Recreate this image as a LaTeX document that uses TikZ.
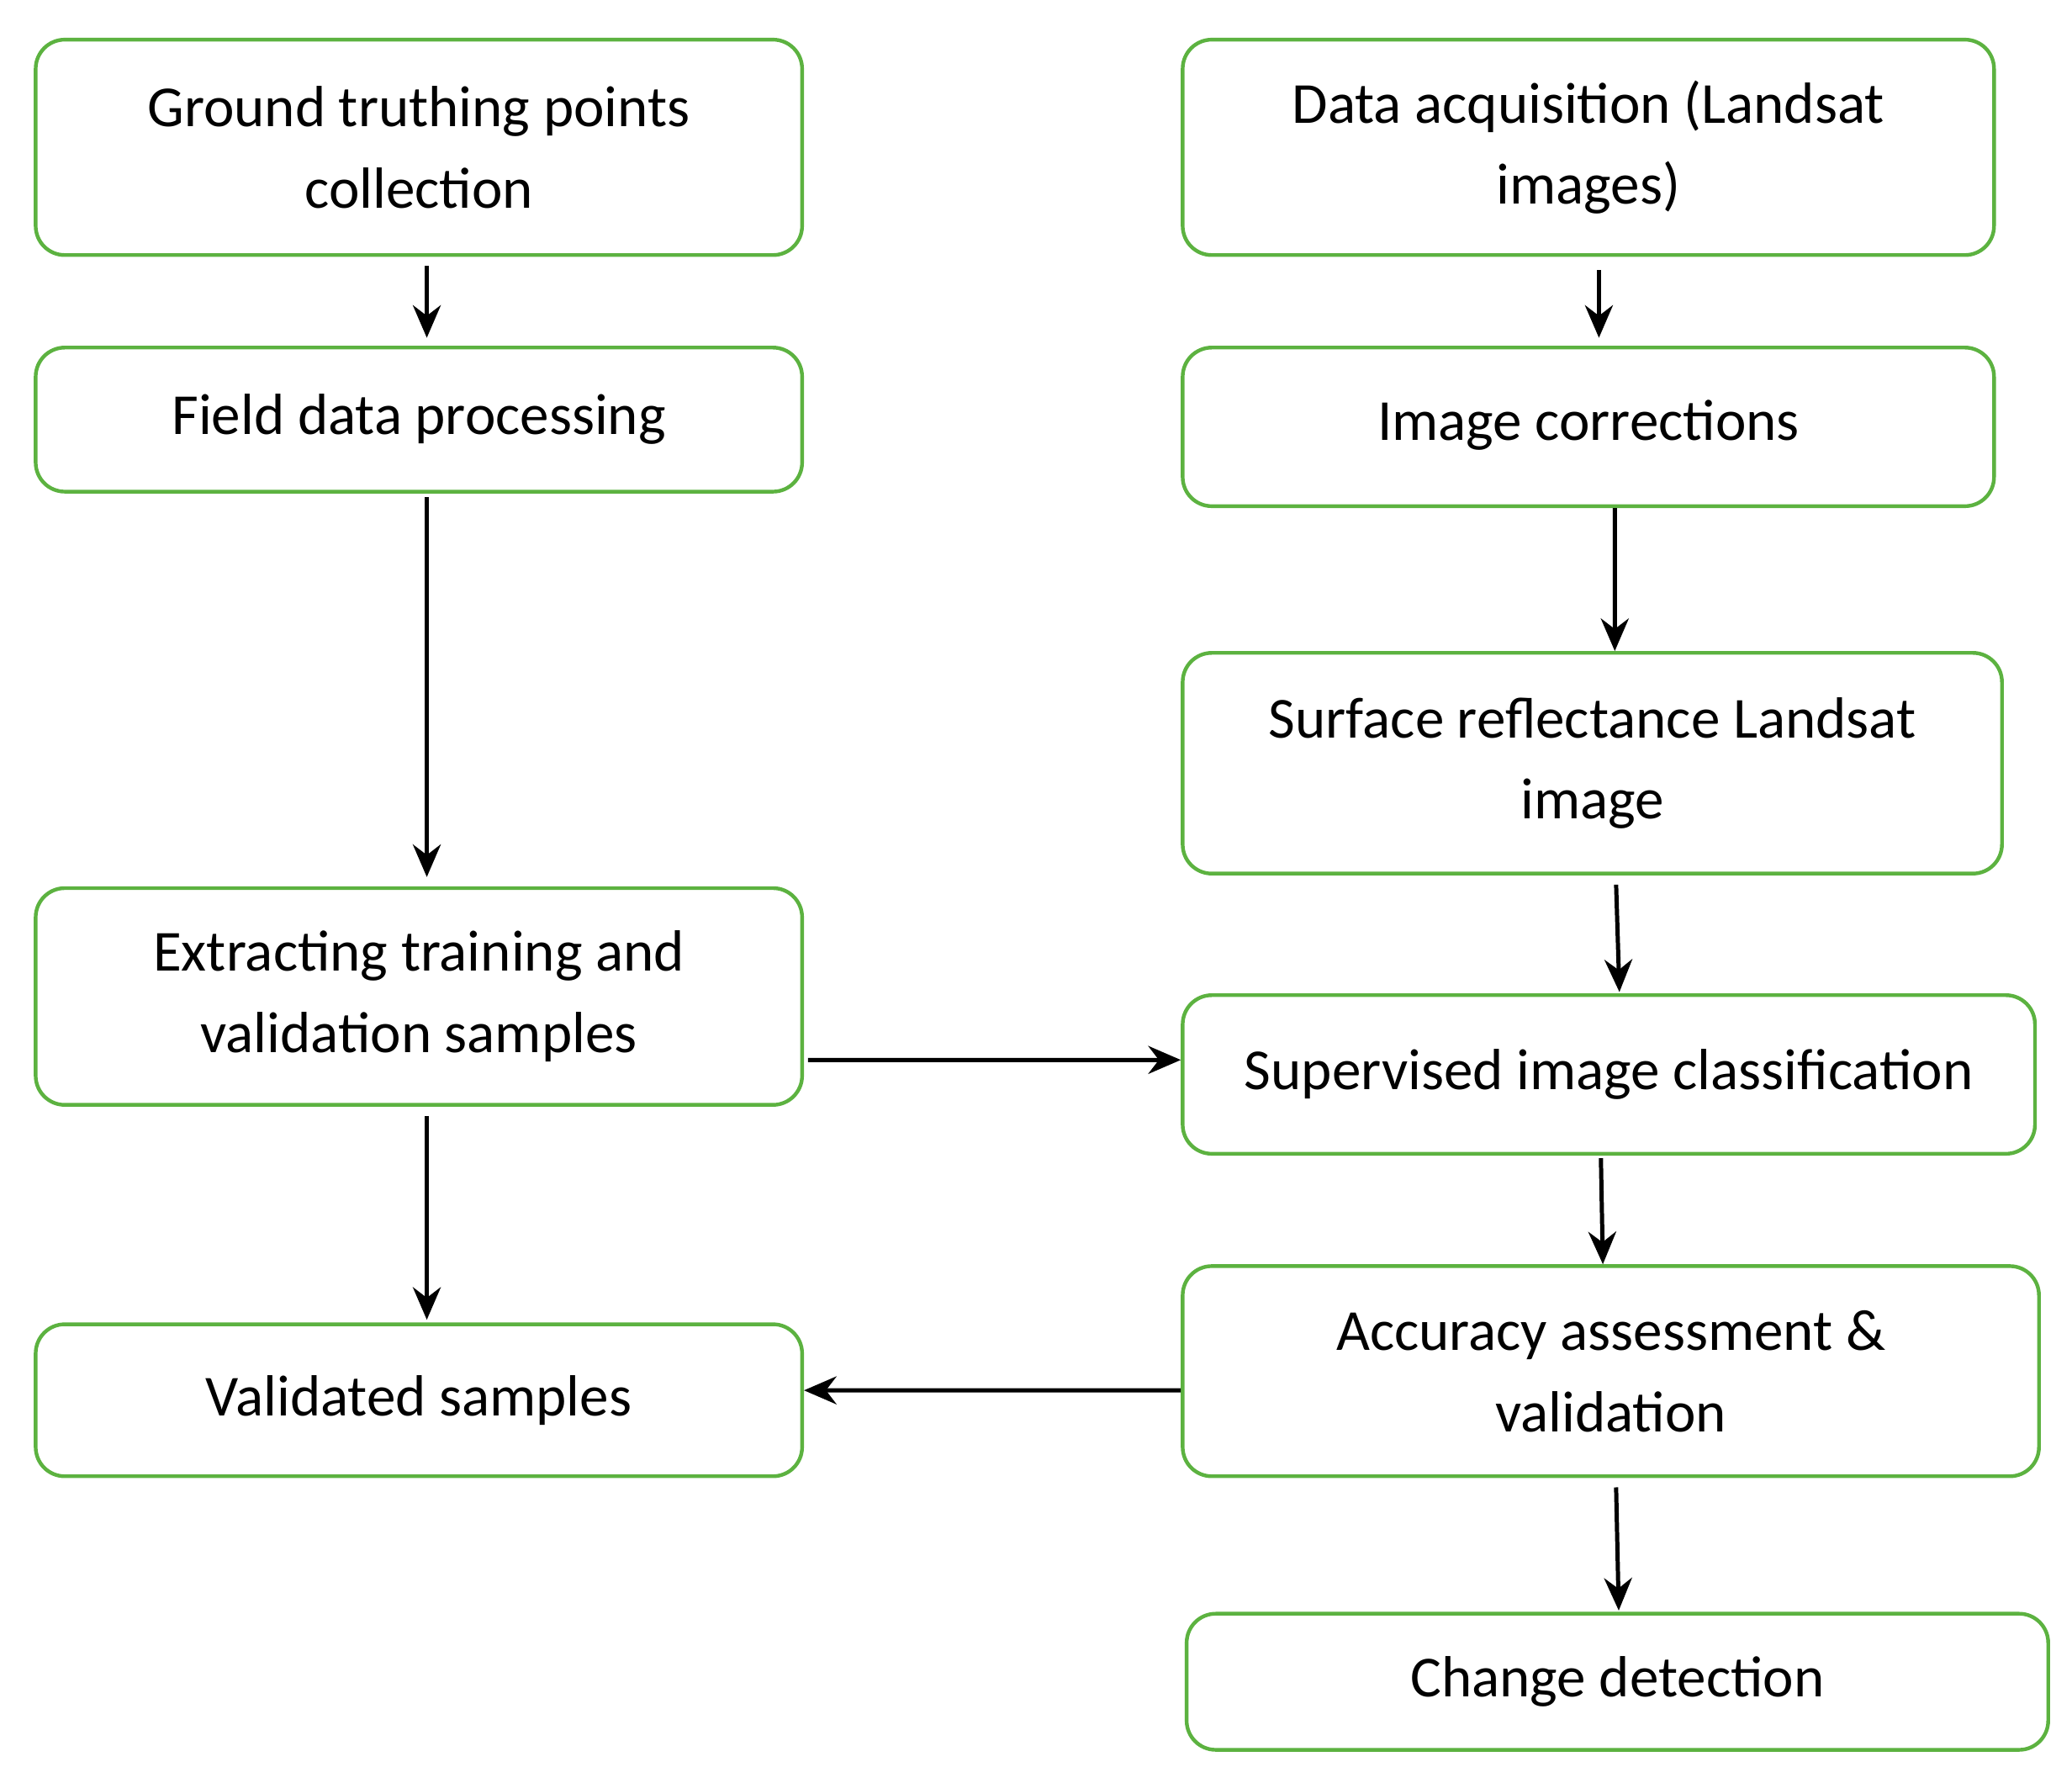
\documentclass[tikz,border=0pt]{standalone}
\usepackage{fontspec}
\setmainfont{Carlito}
\usetikzlibrary{arrows.meta}
\definecolor{gr}{RGB}{92,178,64}
\begin{document}
\begin{tikzpicture}[x=0.01cm,y=-0.01cm,
 box/.style={draw=gr,line width=0.8pt,rounded corners=0.22cm,align=center,font=\fontsize{12.5}{17.5}\selectfont,inner sep=0pt},
 ar/.style={-{Stealth[length=7pt,width=6pt]},line width=0.9pt,black}]
\useasboundingbox (0,0) rectangle (1568,1349);
\newcommand\bx[6]{\node[box,minimum width={(#4-#2)*0.01cm},minimum height={(#5-#3)*0.01cm}] (#1) at ({(#2+#4)/2},{(#3+#5)/2}) {#6};}
\bx{A}{27}{30}{607}{193}{Ground truthing points\\collection}
\bx{B}{27}{263}{607}{372}{\raisebox{0.05cm}{Field data processing}}
\bx{C}{27}{672}{607}{836}{Extracting training and\\validation samples}
\bx{D}{27}{1002}{607}{1117}{Validated samples}
\bx{E}{895}{30}{1509}{193}{Data acquisition (Landsat\\images)}
\bx{F}{895}{263}{1509}{383}{\raisebox{0.1cm}{Image corrections}}
\bx{G}{895}{494}{1515}{661}{Surface reflectance Landsat\\image}
\bx{H}{895}{753}{1540}{873}{Supervised image classification}
\bx{I}{895}{958}{1543}{1117}{Accuracy assessment \&\\validation}
\bx{J}{898}{1221}{1550}{1324}{Change detection}
\draw[ar] ([xshift=0.06cm,yshift=-0.07cm]A.south) -- ([xshift=0.06cm,yshift=0.06cm]B.north);
\draw[ar] ([xshift=0.06cm,yshift=-0.03cm]B.south) -- ([xshift=0.06cm,yshift=0.07cm]C.north);
\draw[ar] ([xshift=0.06cm,yshift=-0.07cm]C.south) -- ([xshift=0.06cm,yshift=0.02cm]D.north);
\draw[ar] ([xshift=0.08cm,yshift=-0.1cm]E.south) -- ([xshift=0.08cm,yshift=0.06cm]F.north);
\draw[ar] ([xshift=0.2cm]F.south) -- ([xshift=0.17cm]G.north);
\draw[ar] ([xshift=0.18cm,yshift=-0.07cm]G.south) -- ([xshift=0.08cm,yshift=0.01cm]H.north);
\draw[ar] ([xshift=0.03cm,yshift=-0.48cm]C.east) -- ([yshift=0.11cm]H.west);
\draw[ar] ([xshift=-0.06cm,yshift=-0.02cm]H.south) -- ([xshift=-0.06cm]I.north);
\draw[ar] ([yshift=-0.145cm]I.west) -- ([yshift=0.075cm]D.east);
\draw[ar] ([xshift=0.04cm,yshift=-0.07cm]I.south) -- ([xshift=0.01cm,yshift=0.01cm]J.north);
\end{tikzpicture}
\end{document}
